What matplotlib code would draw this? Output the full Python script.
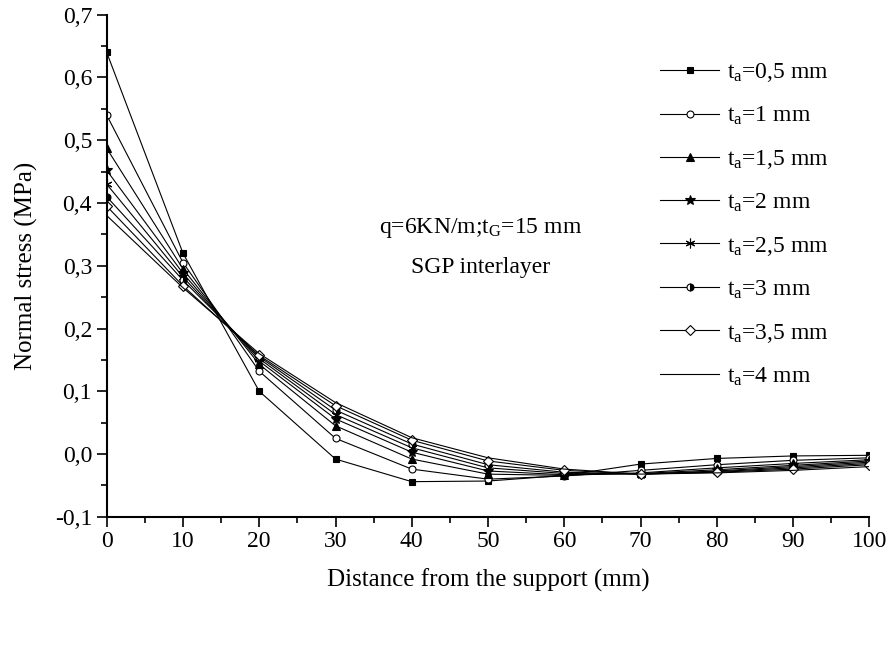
import matplotlib
matplotlib.use("Agg")
import matplotlib.pyplot as plt
from matplotlib.ticker import MultipleLocator, FuncFormatter

plt.rcParams['font.family'] = ['Liberation Serif', 'DejaVu Serif']
plt.rcParams['mathtext.fontset'] = 'custom'
plt.rcParams['mathtext.rm'] = 'Liberation Serif'
plt.rcParams['mathtext.it'] = 'Liberation Serif'

distance = [0, 10, 20, 30, 40, 50, 60, 70, 80, 90, 100]
labels = ["0,5", "1", "1,5", "2", "2,5", "3", "3,5", "4"]
ta_05 = [0.640, 0.320, 0.100, -0.008, -0.044, -0.043, -0.034, -0.016, -0.007, -0.003, -0.002]
ta_10 = [0.540, 0.305, 0.132, 0.025, -0.024, -0.040, -0.035, -0.026, -0.017, -0.010, -0.006]
ta_15 = [0.487, 0.295, 0.143, 0.045, -0.008, -0.032, -0.034, -0.030, -0.022, -0.015, -0.009]
ta_20 = [0.452, 0.288, 0.148, 0.056, 0.003, -0.027, -0.033, -0.031, -0.025, -0.018, -0.011]
ta_25 = [0.430, 0.282, 0.152, 0.063, 0.010, -0.022, -0.031, -0.032, -0.027, -0.020, -0.013]
ta_30 = [0.410, 0.277, 0.155, 0.070, 0.016, -0.017, -0.029, -0.032, -0.028, -0.022, -0.015]
ta_35 = [0.395, 0.268, 0.157, 0.077, 0.022, -0.011, -0.026, -0.032, -0.029, -0.024, -0.017]
ta_40 = [0.380, 0.265, 0.160, 0.082, 0.026, -0.006, -0.024, -0.032, -0.030, -0.026, -0.020]
series = [ta_05, ta_10, ta_15, ta_20, ta_25, ta_30, ta_35, ta_40]

styles = [
    dict(marker='s', mfc='black', ms=5, mew=0.8),
    dict(marker='o', mfc='white', ms=5, mew=0.8),
    dict(marker='^', mfc='black', ms=6, mew=0.8),
    dict(marker='*', mfc='black', ms=7, mew=0.8),
    dict(marker=(6, 2, 0), mfc='black', ms=7, mew=0.8),
    dict(marker='o', mfc='black', fillstyle='right', markerfacecoloralt='white', ms=5, mew=0.8),
    dict(marker='D', mfc='white', ms=5, mew=0.8),
    dict(marker='None'),
]

fig = plt.figure(figsize=(8.89, 6.66), dpi=100)
ax = fig.add_axes([0.12, 0.224, 0.858, 0.754])

for vals, lab, st in zip(series, labels, styles):
    ax.plot(distance, vals, color='black', lw=0.8, mec='black',
            label=r'$\mathregular{t_a}$=' + lab + ' mm', **st)

ax.set_xlim(0, 100)
ax.set_ylim(-0.1, 0.7)
ax.xaxis.set_major_locator(MultipleLocator(10))
ax.xaxis.set_minor_locator(MultipleLocator(5))
ax.yaxis.set_major_locator(MultipleLocator(0.1))
ax.yaxis.set_minor_locator(MultipleLocator(0.05))
ax.yaxis.set_major_formatter(FuncFormatter(lambda v, p: ('%.1f' % v).replace('.', ',').replace('-0,0', '0,0')))
ax.tick_params(which='major', direction='out', length=7, width=1.2, labelsize=17)
ax.tick_params(which='minor', direction='out', length=4, width=1.2)
ax.spines['top'].set_visible(False)
ax.spines['right'].set_visible(False)
ax.spines['left'].set_linewidth(1.5)
ax.spines['bottom'].set_linewidth(1.5)

ax.set_xlabel('Distance from the support (mm)', fontsize=18, labelpad=12)
ax.set_ylabel('Normal stress (MPa)', fontsize=18, labelpad=12)

ax.text(0.49, 0.576, r'q=6KN/m;$\mathregular{t_G}$=15 mm', transform=ax.transAxes,
        ha='center', va='center', fontsize=17)
ax.text(0.49, 0.496, 'SGP interlayer', transform=ax.transAxes,
        ha='center', va='center', fontsize=17)

ax.legend(loc='upper right', bbox_to_anchor=(0.975, 0.95), frameon=False, fontsize=17,
          numpoints=1, handlelength=2.5, labelspacing=0.88, handletextpad=0.35)

fig.savefig('out.png', dpi=100)
